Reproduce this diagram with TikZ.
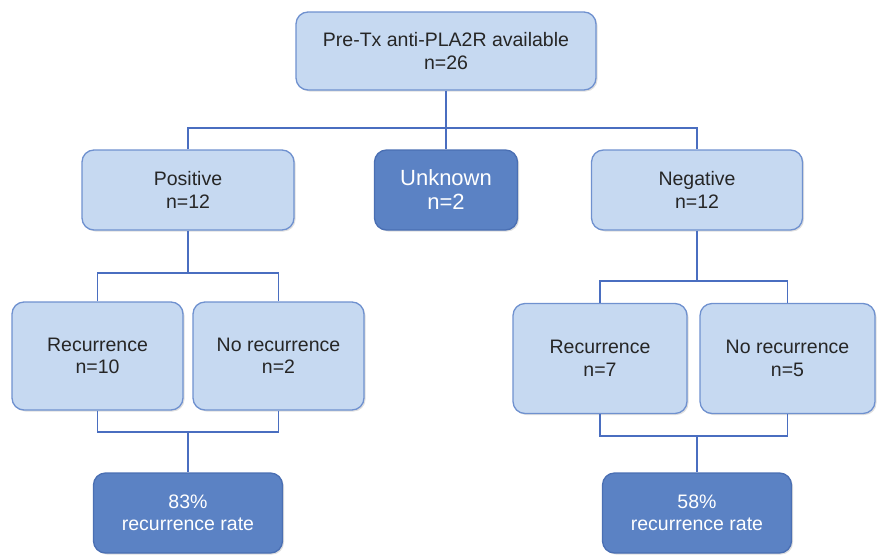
\documentclass[tikz,border=0pt]{standalone}
\usepackage{fontspec}
\setmainfont{Liberation Sans}
\usetikzlibrary{shadows}

\definecolor{boxfill}{HTML}{C6D9F1}
\definecolor{boxline}{HTML}{6F91CF}
\definecolor{darkfill}{HTML}{5B82C4}
\definecolor{darkline}{HTML}{4A6FB3}
\definecolor{linkblue}{HTML}{4A6EC0}

\begin{document}
\begin{tikzpicture}[x=1pt,y=-1pt,
    every node/.style={inner sep=0pt, align=center, font=\fontsize{19.5}{22.5}\selectfont, text=black!85},
    lightbox/.style={draw=boxline, fill=boxfill, line width=1.3pt, rounded corners=12pt,
        drop shadow={opacity=0.25, shadow xshift=1.5pt, shadow yshift=-1.5pt}},
    darkbox/.style={draw=darkline, fill=darkfill, line width=1.3pt, rounded corners=12pt, text=white,
        drop shadow={opacity=0.25, shadow xshift=1.5pt, shadow yshift=-1.5pt}},
    link/.style={draw=linkblue, line width=1.6pt}]
        \useasboundingbox (0,0) rectangle (877,554);
        % boxes
        \node [lightbox, minimum width=300pt, minimum height=78pt] (top) at (446,51) {Pre-Tx anti-PLA2R available\\n=26};
        \node [lightbox, minimum width=212pt, minimum height=80pt] (pos) at (188,190) {Positive\\n=12};
        \node [darkbox, minimum width=143pt, minimum height=80pt, font=\fontsize{22}{24}\selectfont] (unk) at (446,190) {Unknown\\n=2};
        \node [lightbox, minimum width=211pt, minimum height=80pt] (neg) at (697,190) {Negative\\n=12};
        \node [lightbox, minimum width=171pt, minimum height=108pt] (recL) at (97.5,356) {Recurrence\\n=10};
        \node [lightbox, minimum width=171pt, minimum height=108pt] (norL) at (278.5,356) {No recurrence\\n=2};
        \node [lightbox, minimum width=174pt, minimum height=110pt] (recR) at (600,358.5) {Recurrence\\n=7};
        \node [lightbox, minimum width=175pt, minimum height=110pt] (norR) at (787.5,358.5) {No recurrence\\n=5};
        \node [darkbox, minimum width=189pt, minimum height=80pt] (rateL) at (188,513) {83\%\\recurrence rate};
        \node [darkbox, minimum width=189pt, minimum height=80pt] (rateR) at (697,513) {58\%\\recurrence rate};
        % joins
        \coordinate (hub) at (446,128);
        \coordinate (joinA) at (188,273);
        \coordinate (joinB) at (188,432);
        \coordinate (joinC) at (697,281);
        \coordinate (joinD) at (697,436);
        % links
        \draw [link] (top.south) -- (unk.north);
        \draw [link] (pos.north) |- (hub) -| (neg.north);
        \draw [link] (pos.south) -- (joinA);
        \draw [link] (recL.north) |- (joinA) -| (norL.north);
        \draw [link] (recL.south) |- (joinB) -| (norL.south);
        \draw [link] (joinB) -- (rateL.north);
        \draw [link] (neg.south) -- (joinC);
        \draw [link] (recR.north) |- (joinC) -| (norR.north);
        \draw [link] (recR.south) |- (joinD) -| (norR.south);
        \draw [link] (joinD) -- (rateR.north);
    \end{tikzpicture}
\end{document}
